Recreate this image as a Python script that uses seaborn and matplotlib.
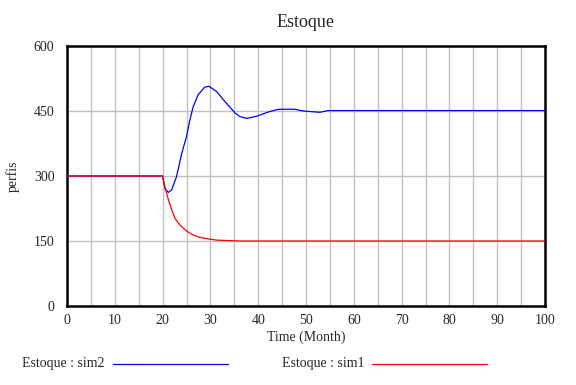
import pandas as pd
import seaborn as sns
import matplotlib.pyplot as plt
from matplotlib.lines import Line2D

# valores
tempo_sim2 = [0, 20, 20.5, 21.2, 21.9, 22.9, 24.0, 25.0, 25.7, 26.4, 27.4, 28.8, 29.7,
              31.3, 33.1, 35.2, 36.2, 37.6, 39.7, 42.2, 44.2, 47.7, 49.4, 52.9, 54.6, 100]
estoque_sim2 = [300, 300, 271, 262, 268, 298, 352, 391, 429, 460, 487, 505, 507,
                495, 471, 445, 437, 433, 438, 448, 454, 454, 450, 447, 451, 451]

tempo_sim1 = [0, 20, 20.5, 21.2, 21.9, 22.6, 23.6, 25.0, 26.4, 27.8, 29.5, 31.3, 33.7, 36, 100]
estoque_sim1 = [300, 300, 273, 246, 222, 202, 187, 173, 164, 158, 155, 152, 151, 150, 150]

x_ticks = list(range(0, 101, 10))
y_ticks = [0, 150, 300, 450, 600]

df = pd.concat([
    pd.DataFrame({"tempo": tempo_sim2, "estoque": estoque_sim2, "serie": "Estoque : sim2"}),
    pd.DataFrame({"tempo": tempo_sim1, "estoque": estoque_sim1, "serie": "Estoque : sim1"}),
])

sns.set_style("white")
plt.rcParams["font.family"] = ["Liberation Serif", "DejaVu Serif"]

fig = plt.figure(figsize=(5.76, 3.85), dpi=100)
ax = fig.add_axes([67 / 576, 1 - 306 / 385, 478 / 576, 260 / 385])

cores = {"Estoque : sim2": "#0000ff", "Estoque : sim1": "#ff0000"}
sns.lineplot(data=df, x="tempo", y="estoque", hue="serie", palette=cores,
             linewidth=0.9, legend=False, ax=ax, zorder=3)

ax.set_xlim(0, 100)
ax.set_ylim(0, 600)
ax.set_xticks(range(0, 101, 5))
ax.set_xticklabels([str(v) if v in x_ticks else "" for v in range(0, 101, 5)])
ax.set_yticks(y_ticks)
ax.set_yticklabels([str(v) for v in y_ticks])
ax.grid(True, color="#c0c0c0", linewidth=1.0)
ax.tick_params(axis="x", length=0, labelsize=10, pad=6)
ax.tick_params(axis="y", length=0, labelsize=10, pad=9)
for s in ax.spines.values():
    s.set_color("black")
    s.set_linewidth(1.8)

ax.set_xlabel("Time (Month)", fontsize=10, labelpad=2)
ax.set_ylabel("perfis", fontsize=10, labelpad=10)
ax.set_title("Estoque", fontsize=13, pad=14)

# legenda no estilo Vensim
y_leg = 1 - 364 / 385
fig.text(22 / 576, y_leg, "Estoque : sim2", fontsize=10, va="center")
fig.add_artist(Line2D([113 / 576, 228 / 576], [y_leg, y_leg], color="#0000ff", linewidth=0.9))
fig.text(282 / 576, y_leg, "Estoque : sim1", fontsize=10, va="center")
fig.add_artist(Line2D([372 / 576, 487 / 576], [y_leg, y_leg], color="#ff0000", linewidth=0.9))

fig.savefig("out.png", dpi=100)
